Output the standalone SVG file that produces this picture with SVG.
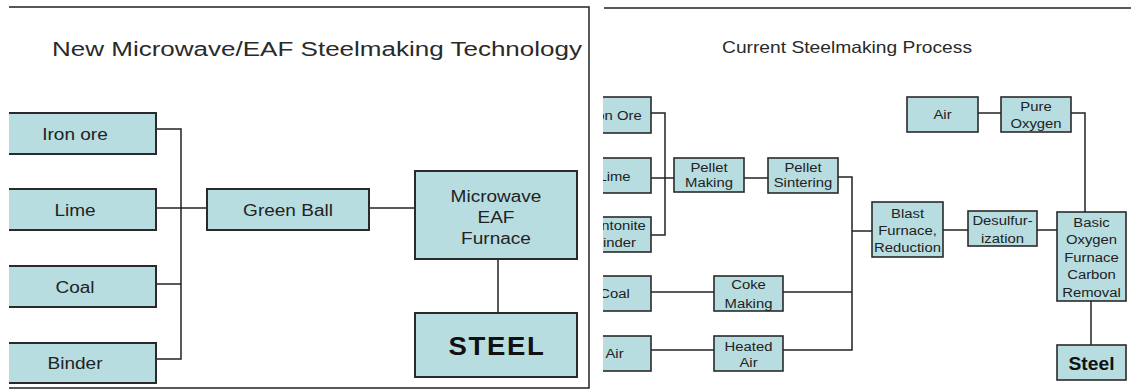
<svg xmlns="http://www.w3.org/2000/svg" width="1131" height="391" viewBox="0 0 1131 391">
<style>
.bg{fill:#ffffff}
.frame{fill:none;stroke:#222;stroke-width:1.5}
.boxL{fill:#b7dde1;stroke:#2a2a2a;stroke-width:2}
.boxR{fill:#b7dde1;stroke:#2a2a2a;stroke-width:1.6}
.cn{fill:none;stroke:#222;stroke-width:1.5}
.lblL{font-family:"Liberation Sans",Arial,sans-serif;font-size:17.3px;fill:#222;text-anchor:middle}
.lblR{font-family:"Liberation Sans",Arial,sans-serif;font-size:13.5px;fill:#222;text-anchor:middle}
.title{font-family:"Liberation Sans",Arial,sans-serif;fill:#2a2a2a;text-anchor:middle}
.steelL{font-family:"Liberation Sans",Arial,sans-serif;font-size:25px;font-weight:bold;fill:#111;text-anchor:middle;letter-spacing:1.5px}
.steelR{font-family:"Liberation Sans",Arial,sans-serif;font-size:17.5px;font-weight:bold;fill:#111;text-anchor:middle}
</style>
<defs>
<clipPath id="clipL"><rect x="9" y="0" width="600" height="391"/></clipPath>
<clipPath id="clipR"><rect x="603" y="0" width="528" height="391"/></clipPath>
</defs>
<rect class="bg" x="0" y="0" width="1131" height="391"/>

<!-- frames -->
<g id="frames">
<path class="frame" d="M9,7 H589 V388 H9"/>
<path class="frame" d="M604,8 H1131"/>
</g>

<!-- titles -->
<text id="title-left" class="title" x="317" y="56" style="font-size:20px" textLength="530" lengthAdjust="spacingAndGlyphs">New Microwave/EAF Steelmaking Technology</text>
<text id="title-right" class="title" x="847" y="53" style="font-size:16.5px" textLength="250" lengthAdjust="spacingAndGlyphs">Current Steelmaking Process</text>

<!-- connectors -->
<g id="connectors">
<path class="cn" d="M156,129 H181 V359 H156"/>
<path class="cn" d="M156,208 H207"/>
<path class="cn" d="M156,284 H181"/>
<path class="cn" d="M369,208 H415"/>
<path class="cn" d="M498,259 V313"/>

<path class="cn" d="M651,113 H665 V235 H651"/>
<path class="cn" d="M651,178 H674"/>
<path class="cn" d="M744,178 H768"/>
<path class="cn" d="M838,177 H852 V350 H783"/>
<path class="cn" d="M783,292 H852"/>
<path class="cn" d="M651,292 H714"/>
<path class="cn" d="M651,350 H714"/>
<path class="cn" d="M852,231 H872"/>
<path class="cn" d="M943,230 H968"/>
<path class="cn" d="M1037,230 H1057"/>
<path class="cn" d="M978,113 H1001"/>
<path class="cn" d="M1071,113 H1085 V212"/>
<path class="cn" d="M1091,301 V345"/>
</g>

<!-- left panel nodes -->
<g clip-path="url(#clipL)">
<g id="n-iron-ore">
<rect class="boxL" x="-10" y="113" width="166" height="41"/>
<text class="lblL" transform="translate(75,139.7) scale(1.1,1)">Iron ore</text>
</g>
<g id="n-lime">
<rect class="boxL" x="-10" y="189" width="166" height="41"/>
<text class="lblL" transform="translate(75,215.7) scale(1.1,1)">Lime</text>
</g>
<g id="n-coal">
<rect class="boxL" x="-10" y="266" width="166" height="41"/>
<text class="lblL" transform="translate(75,292.5) scale(1.1,1)">Coal</text>
</g>
<g id="n-binder">
<rect class="boxL" x="-10" y="343" width="166" height="40"/>
<text class="lblL" transform="translate(75,369) scale(1.1,1)">Binder</text>
</g>
</g>
<g id="n-green-ball">
<rect class="boxL" x="207" y="189" width="162" height="41"/>
<text class="lblL" transform="translate(288,215.7) scale(1.1,1)">Green Ball</text>
</g>
<g id="n-microwave">
<rect class="boxL" x="415" y="171" width="162" height="88"/>
<text class="lblL" transform="translate(496,202) scale(1.1,1)"><tspan x="0" y="0">Microwave</tspan><tspan x="0" y="21">EAF</tspan><tspan x="0" y="42">Furnace</tspan></text>
</g>
<g id="n-steel-left">
<rect class="boxL" x="415" y="313" width="162" height="64"/>
<text class="steelL" transform="translate(497,355) scale(1.1,1)">STEEL</text>
</g>

<!-- right panel nodes -->
<g clip-path="url(#clipR)">
<g id="r-iron-ore">
<rect class="boxR" x="578" y="97" width="73" height="36"/>
<text class="lblR" transform="translate(614.5,120) scale(1.1,1)">Iron Ore</text>
</g>
<g id="r-lime">
<rect class="boxR" x="578" y="158" width="73" height="35"/>
<text class="lblR" transform="translate(614.5,180.5) scale(1.1,1)">Lime</text>
</g>
<g id="r-bentonite">
<rect class="boxR" x="578" y="217" width="73" height="35"/>
<text class="lblR" transform="translate(614.5,230) scale(1.1,1)"><tspan x="0" y="0">Bentonite</tspan><tspan x="0" y="17">Binder</tspan></text>
</g>
<g id="r-coal">
<rect class="boxR" x="578" y="276" width="73" height="35"/>
<text class="lblR" transform="translate(614.5,298) scale(1.1,1)">Coal</text>
</g>
<g id="r-air-bottom">
<rect class="boxR" x="578" y="336" width="73" height="35"/>
<text class="lblR" transform="translate(614.5,358) scale(1.1,1)">Air</text>
</g>
</g>
<g id="r-pellet-making">
<rect class="boxR" x="674" y="158" width="70" height="34"/>
<text class="lblR" transform="translate(709,172) scale(1.1,1)"><tspan x="0" y="0">Pellet</tspan><tspan x="0" y="15.5">Making</tspan></text>
</g>
<g id="r-pellet-sintering">
<rect class="boxR" x="768" y="158" width="70" height="35"/>
<text class="lblR" transform="translate(803,172) scale(1.1,1)"><tspan x="0" y="0">Pellet</tspan><tspan x="0" y="15.5">Sintering</tspan></text>
</g>
<g id="r-coke-making">
<rect class="boxR" x="714" y="276" width="69" height="35"/>
<text class="lblR" transform="translate(748.5,289) scale(1.1,1)"><tspan x="0" y="0">Coke</tspan><tspan x="0" y="19">Making</tspan></text>
</g>
<g id="r-heated-air">
<rect class="boxR" x="714" y="336" width="69" height="35"/>
<text class="lblR" transform="translate(748.5,351) scale(1.1,1)"><tspan x="0" y="0">Heated</tspan><tspan x="0" y="16">Air</tspan></text>
</g>
<g id="r-blast-furnace">
<rect class="boxR" x="872" y="202" width="71" height="55"/>
<text class="lblR" transform="translate(907.5,218) scale(1.1,1)"><tspan x="0" y="0">Blast</tspan><tspan x="0" y="17">Furnace,</tspan><tspan x="0" y="34">Reduction</tspan></text>
</g>
<g id="r-desulf">
<rect class="boxR" x="968" y="211" width="69" height="35"/>
<text class="lblR" transform="translate(1002.5,225) scale(1.1,1)"><tspan x="0" y="0">Desulfur-</tspan><tspan x="0" y="18">ization</tspan></text>
</g>
<g id="r-air-top">
<rect class="boxR" x="907" y="97" width="71" height="35"/>
<text class="lblR" transform="translate(942.5,119) scale(1.1,1)">Air</text>
</g>
<g id="r-pure-oxygen">
<rect class="boxR" x="1001" y="97" width="70" height="35"/>
<text class="lblR" transform="translate(1036,111) scale(1.1,1)"><tspan x="0" y="0">Pure</tspan><tspan x="0" y="17">Oxygen</tspan></text>
</g>
<g id="r-bof">
<rect class="boxR" x="1057" y="212" width="69" height="89"/>
<text class="lblR" transform="translate(1091.5,227) scale(1.1,1)"><tspan x="0" y="0">Basic</tspan><tspan x="0" y="17.5">Oxygen</tspan><tspan x="0" y="35">Furnace</tspan><tspan x="0" y="52.5">Carbon</tspan><tspan x="0" y="70">Removal</tspan></text>
</g>
<g id="r-steel">
<rect class="boxR" x="1057" y="345" width="69" height="35"/>
<text class="steelR" transform="translate(1091.5,370) scale(1.1,1)">Steel</text>
</g>
</svg>
